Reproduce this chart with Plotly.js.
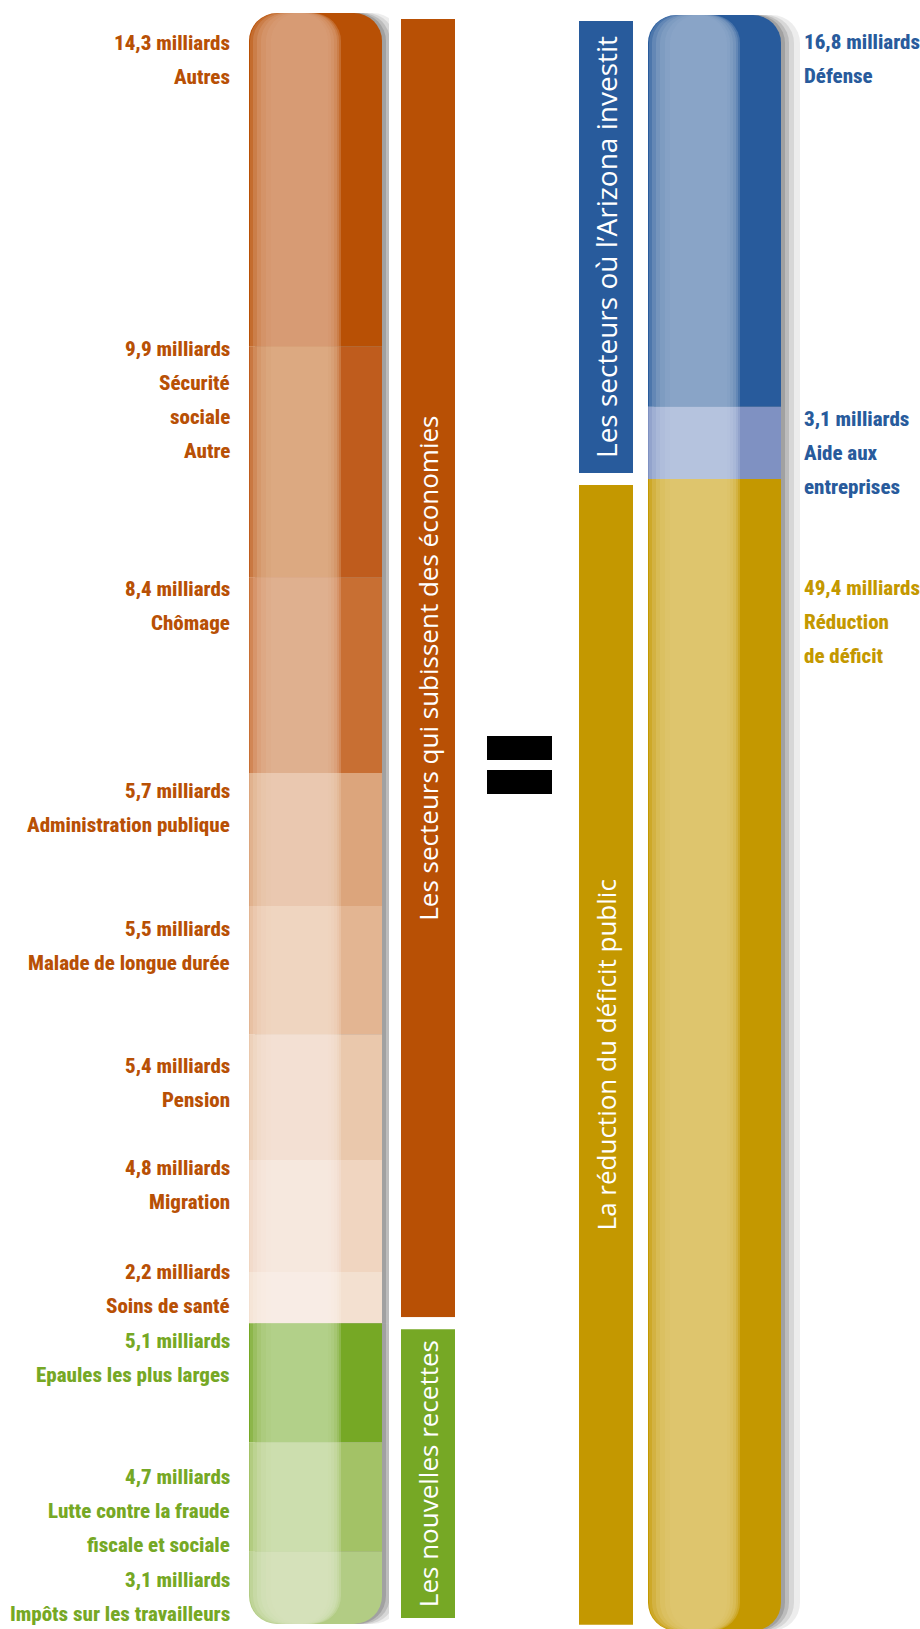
<!DOCTYPE html>
<html>
<head>
<meta charset="utf-8">
<script src="https://cdn.plot.ly/plotly-3.0.1.min.js"></script>
<style>html,body{margin:0;padding:0;background:#fff;}</style>
</head>
<body>
<div id="chart" style="width:920px;height:1629px;"></div>
<script>
// ---------------- DATA (milliards d'euros) ----------------
const savingsNames  = ["Soins de santé", "Migration", "Pension", "Malade de longue durée", "Administration publique", "Chômage", "Sécurité\nsociale\nAutre", "Autres"];
const savingsValues = [2.2, 4.8, 5.4, 5.5, 5.7, 8.4, 9.9, 14.3];
const revenueNames  = ["Epaules les plus larges", "Lutte contre la fraude\nfiscale et sociale", "Impôts sur les travailleurs"];
const revenueValues = [5.1, 4.7, 3.1];
const investNames   = ["Aide aux\nentreprises", "Défense"];
const investValues  = [3.1, 16.8];
const deficitNames  = ["Réduction\nde déficit"];
const deficitValues = [49.4];
const bannerSavings = "Les secteurs qui subissent des économies";
const bannerRevenue = "Les nouvelles recettes";
const bannerInvest  = "Les secteurs où l’Arizona investit";
const bannerDeficit = "La réduction du déficit public";
const unitLabel = "milliards";

// ---------------- STYLE ----------------
const savingsBase  = ["#f3e0d0", "#f0d5c0", "#eac8ac", "#e3b592", "#dca57c", "#c86f33", "#bf5c1d", "#b85005"];
const savingsLight = ["#f9eee6", "#f7e9df", "#f4e2d5", "#f0d7c4", "#eacab3", "#e1b394", "#ddac88", "#d9a07a"];
const revenueBase  = ["#76a825", "#a3c266", "#b2cc84"];
const revenueLight = ["#b6d28e", "#cfdfb1", "#d6e3bd"];
const investBase   = ["#7f91c2", "#285b9c"];
const investLight  = ["#b8c5e0", "#8ea8c9"];
const deficitBase  = ["#c49800"];
const deficitLight = ["#e0c774"];
const ORANGE = "#b85005", GREEN = "#76a825", BLUE = "#285b9c", GOLD = "#c49800";

const W = 920, H = 1629;
const geom = {
  leftCol:  {x0: 249, x1: 382},
  rightCol: {x0: 648, x1: 781},
  leftBanner:  {x0: 401, x1: 455},
  rightBanner: {x0: 579, x1: 633},
  leftLabelX: 232, rightLabelX: 802,
  leftTopPx: 13, leftBottomPx: 1624, rightTopPx: 15,
  radius: 28, lineGap: 34, bannerGap: 12
};
const savingsShift = [-8, 0, 24, 15, 10, 4, -5, 22];
const revenueShift = [10, 27, 20];
const investShift  = [4, 19];
const deficitShift = [101];

const labelFont = {family: "'Roboto Condensed', 'DejaVu Sans Condensed', sans-serif", size: 21, weight: 800};
const bannerFont = {family: "'Open Sans', 'Noto Sans', sans-serif", size: 26, color: "#ffffff"};

const glossLayers = [
  {l: 1, r: 92, a: 0.35}, {l: 4, r: 90, a: 0.35}, {l: 8, r: 88, a: 0.4},
  {l: 12, r: 85, a: 0.4}, {l: 17, r: 82, a: 0.45}, {l: 22, r: 79, a: 0.45}
];
const shadowLayers = [
  {ext: 4, a: 0.14}, {ext: 8, a: 0.12}, {ext: 13, a: 0.09}, {ext: 19, a: 0.07}
];

const sum = a => a.reduce((s, v) => s + v, 0);
const fmt = v => v.toFixed(1).replace(".", ",") + " " + unitLabel;

const leftTotal = sum(savingsValues) + sum(revenueValues);
const k = (geom.leftBottomPx - geom.leftTopPx) / leftTotal;
const yLeftMax = sum(savingsValues) + geom.leftTopPx / k;
const yLeftRange = [yLeftMax - H / k, yLeftMax];
const yRightMax = sum(investValues) + geom.rightTopPx / k;
const yRightRange = [yRightMax - H / k, yRightMax];

const traces = [];
function bar(yaxis, x0, x1, v, color, opts) {
  opts = opts || {};
  const marker = {color: color, opacity: opts.a == null ? 1 : opts.a,
                  line: {width: opts.lw || 0, color: "#ffffff"}};
  if (opts.rad) marker.cornerradius = opts.rad;
  const t = {
    type: "bar", xaxis: "x", yaxis: yaxis,
    x: [(x0 + x1) / 2], y: [v], width: [x1 - x0],
    marker: marker, hoverinfo: "skip", showlegend: false
  };
  if (opts.text) {
    t.text = [opts.text]; t.textposition = "inside"; t.textangle = -90;
    t.insidetextanchor = "middle"; t.constraintext = "none";
    t.insidetextfont = Object.assign({}, bannerFont, {size: opts.fs || bannerFont.size});
    t.texttemplate = "%{text}";
  } else {
    t.textposition = "none";
  }
  return t;
}

function banner(yaxis, b, upSum, downSum, upColor, downColor, upText, downText, upFs, downFs) {
  const g = geom.bannerGap / 2;
  traces.push(bar(yaxis, b.x0 - g, b.x1 + g, upSum, upColor, {lw: geom.bannerGap, text: upText, fs: upFs}));
  traces.push(bar(yaxis, b.x0 - g, b.x1 + g, -downSum, downColor, {lw: geom.bannerGap, text: downText, fs: downFs}));
}

function column(yaxis, col, upVals, downVals, upBase, downBase, upLight, downLight) {
  const R = geom.radius;
  shadowLayers.forEach(s => {
    traces.push(bar(yaxis, col.x0 + 6, col.x1 + s.ext, sum(upVals), "#000000", {a: s.a, rad: R}));
    traces.push(bar(yaxis, col.x0 + 6, col.x1 + s.ext, -sum(downVals), "#000000", {a: s.a, rad: R}));
  });
  upVals.forEach((v, i) => traces.push(bar(yaxis, col.x0, col.x1, v, upBase[i], {rad: R})));
  downVals.forEach((v, i) => traces.push(bar(yaxis, col.x0, col.x1, -v, downBase[i], {rad: R})));
  glossLayers.forEach(gl => {
    upVals.forEach((v, i) => traces.push(bar(yaxis, col.x0 + gl.l, col.x0 + gl.r, v, upLight[i], {a: gl.a, rad: R})));
    downVals.forEach((v, i) => traces.push(bar(yaxis, col.x0 + gl.l, col.x0 + gl.r, -v, downLight[i], {a: gl.a, rad: R})));
  });
}

// banners on their own (overlaid) y axes so that they keep square corners
banner("y3", geom.leftBanner, sum(savingsValues), sum(revenueValues), ORANGE, GREEN, bannerSavings, bannerRevenue, 26, 26);
banner("y4", geom.rightBanner, sum(investValues), sum(deficitValues), BLUE, GOLD, bannerInvest, bannerDeficit, 28, 26);
column("y", geom.leftCol, savingsValues, revenueValues, savingsBase, revenueBase, savingsLight, revenueLight);
column("y2", geom.rightCol, investValues, deficitValues, investBase, deficitBase, investLight, deficitLight);

// ---------------- LABELS ----------------
const annotations = [];
function labels(yref, values, names, shifts, up, x, anchor, color) {
  let acc = 0;
  values.forEach((v, i) => {
    const top = up ? acc + v : -acc;
    acc += v;
    const lines = [fmt(v)].concat(names[i].split("\n"));
    lines.forEach((ln, j) => {
      annotations.push({
        xref: "x", yref: yref, x: x, y: top, xanchor: anchor, yanchor: "top",
        yshift: -(shifts[i] - 6) - j * geom.lineGap,
        text: ln, showarrow: false, align: anchor,
        font: Object.assign({}, labelFont, {color: color})
      });
    });
  });
}
labels("y", savingsValues, savingsNames, savingsShift, true, geom.leftLabelX, "right", ORANGE);
labels("y", revenueValues, revenueNames, revenueShift, false, geom.leftLabelX, "right", GREEN);
labels("y2", investValues, investNames, investShift, true, geom.rightLabelX, "left", BLUE);
labels("y2", deficitValues, deficitNames, deficitShift, false, geom.rightLabelX, "left", GOLD);

const eq = [[736, 760], [770, 794]].map(r => ({
  type: "rect", xref: "x", yref: "paper", x0: 487, x1: 552,
  y0: 1 - r[1] / H, y1: 1 - r[0] / H, fillcolor: "#000000", line: {width: 0}
}));

const layout = {
  width: W, height: H,
  margin: {l: 0, r: 0, t: 0, b: 0, pad: 0},
  paper_bgcolor: "#ffffff", plot_bgcolor: "#ffffff",
  barmode: "relative",
  showlegend: false,
  xaxis: {range: [0, W], visible: false, fixedrange: true},
  yaxis: {range: yLeftRange, visible: false, fixedrange: true},
  yaxis2: {range: yRightRange, visible: false, overlaying: "y", fixedrange: true},
  yaxis3: {range: yLeftRange, visible: false, overlaying: "y", fixedrange: true},
  yaxis4: {range: yRightRange, visible: false, overlaying: "y", fixedrange: true},
  annotations: annotations,
  shapes: eq
};

Plotly.newPlot("chart", traces, layout, {staticPlot: true, displayModeBar: false});
</script>
</body>
</html>
